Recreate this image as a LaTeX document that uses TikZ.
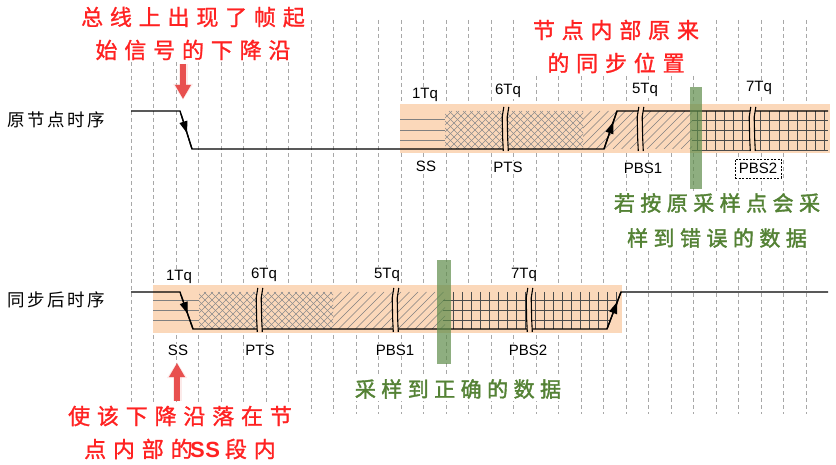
\documentclass[tikz,border=0pt]{standalone}
\usepackage{fontspec}
\setmainfont{Liberation Sans}
\newfontfamily\blackcjk{Noto Sans CJK SC}[LetterSpace=14]
\newfontfamily\redcjk{Noto Sans CJK SC}[LetterSpace=31,FakeBold=1.2]
\newfontfamily\greencjk{Noto Sans CJK SC}[LetterSpace=26,FakeBold=1.8]
\usetikzlibrary{arrows.meta,decorations.markings}
\definecolor{band}{HTML}{FBD8BA}
\definecolor{gbar}{HTML}{5E8C4A}
\definecolor{redtxt}{HTML}{FF2222}
\definecolor{greentxt}{HTML}{548235}
\definecolor{redarrow}{HTML}{E8504F}
\definecolor{gridgray}{HTML}{A8A8A8}
\newcommand\brkmark[3]{%
  \fill[band] (#1+0.8,#2) -- (#1-0.8,#2+10) -- (#1-0.3,#3-12) -- (#1+0.3,#3)
     -- (#1+5.3,#3) -- (#1+4.7,#3-12) -- (#1+4.2,#2+10) -- (#1+5.8,#2) -- cycle;
  \draw[brkline] (#1+0.8,#2) -- (#1-0.8,#2+10) -- (#1-0.3,#3-12) -- (#1+0.3,#3);
  \draw[brkline] (#1+5.8,#2) -- (#1+4.2,#2+10) -- (#1+4.7,#3-12) -- (#1+5.3,#3);
}
\begin{document}
\begin{tikzpicture}[x=1pt,y=-1pt,
  vgrid/.style={gridgray,line width=0.8pt,dash pattern=on 4pt off 3pt},
  sig/.style={black,line width=1.3pt,line join=miter},
  sslines/.style={black!50,line width=0.8pt},
  xh/.style={black!45,line width=0.45pt},
  dh/.style={black!50,line width=0.5pt},
  gridln/.style={black!70,line width=0.8pt},
  brkline/.style={black,line width=1.1pt},
  sigarrow/.style={postaction={decorate},decoration={markings,
     mark=at position #1 with {\arrow{Triangle[length=12pt,width=8pt]}}}},
  lab/.style={font=\fontsize{15}{17}\selectfont, fill=white, inner sep=1pt},
  blacklab/.style={font=\blackcjk\fontsize{17.5}{19}\selectfont, inner sep=1pt},
  redtext/.style={font=\redcjk\fontsize{22}{33}\selectfont, text=redtxt, fill=white, inner sep=2pt, align=center},
  greentext/.style={font=\greencjk\fontsize{21}{35}\selectfont, text=greentxt, fill=white, inner sep=2pt, align=center},
  gbarstyle/.style={fill=gbar, fill opacity=0.7},
  redarr/.style={redarrow, line width=6pt, -{Triangle[length=14pt,width=15pt]}}
]
\useasboundingbox (0,0) rectangle (836,465);
% dashed vertical grid
\foreach \k in {0,...,30} \draw[vgrid] ({131+22.5*\k},20) -- ({131+22.5*\k},414);
% bands
\fill[band] (400,104) rectangle (830,153);
\fill[band] (153,285) rectangle (622,333);
% ---------- top row patterns
\foreach \y in {119,130,140} \draw[sslines] (400,\y) -- (445,\y);
\begin{scope}
  \clip (445,111) rectangle (583,149);
  \foreach \i in {0,...,26} {
    \draw[xh] ({407+7*\i},149) -- ++(38,-38);
    \draw[xh] ({407+7*\i},111) -- ++(38,38);}
\end{scope}
\begin{scope}
  \clip (583,111) rectangle (692,149);
  \foreach \i in {0,...,18} \draw[dh] ({545+8.5*\i},149) -- ++(38,-38);
\end{scope}
\foreach \y in {120,130,140,150} \draw[gridln] (692,\y) -- (828,\y);
\foreach \j in {0,...,14} \draw[gridln] ({697+9.1*\j},111) -- ({697+9.1*\j},150);
% ---------- bottom row patterns
\foreach \y in {300,310,320} \draw[sslines] (153,\y) -- (199,\y);
\begin{scope}
  \clip (199,292) rectangle (333,329);
  \foreach \i in {0,...,25} {
    \draw[xh] ({162+7*\i},329) -- ++(37,-37);
    \draw[xh] ({162+7*\i},292) -- ++(37,37);}
\end{scope}
\begin{scope}
  \clip (333,292) rectangle (445,329);
  \foreach \i in {0,...,18} \draw[dh] ({296+8.5*\i},329) -- ++(37,-37);
\end{scope}
\begin{scope}
  \clip (443,292) -- (621,292) -- (607,329) -- (443,329) -- cycle;
  \foreach \y in {300,310,320} \draw[gridln] (443,\y) -- (621,\y);
  \foreach \j in {0,...,18} \draw[gridln] ({453+9.1*\j},292) -- ({453+9.1*\j},329);
\end{scope}
% ---------- signals
\coordinate (a1) at (131,111); \coordinate (a2) at (180,111); \coordinate (a3) at (181,114);
\coordinate (a4) at (192,149); \coordinate (a5) at (604,149); \coordinate (a6) at (617,111);
\coordinate (a7) at (828,111);
\draw[sig] (a1) -- (a2) -- (a3) -- (a4) -- (a5) -- (a6) -- (a7);
\draw[sig, sigarrow=0.55] (a3) -- (a4);
\draw[sig, sigarrow=0.72] (a5) -- (a6);
\coordinate (b1) at (131,292); \coordinate (b2) at (180,292); \coordinate (b3) at (181,295);
\coordinate (b4) at (193,329); \coordinate (b5) at (607,329); \coordinate (b6) at (621,292);
\coordinate (b7) at (828,292);
\draw[sig] (b1) -- (b2) -- (b3) -- (b4) -- (b5) -- (b6) -- (b7);
\draw[sig, sigarrow=0.56] (b3) -- (b4);
\draw[sig, sigarrow=0.74] (b5) -- (b6);
% ---------- breaks
\brkmark{503}{107}{151}
\brkmark{638}{107}{151}
\brkmark{750}{107}{151}
\brkmark{257}{288}{332}
\brkmark{393}{288}{332}
\brkmark{527}{288}{332}
% ---------- green bars
\fill[gbarstyle] (690,87) rectangle (702,189);
\fill[gbarstyle] (437,260) rectangle (451,364);
% ---------- labels
\node[blacklab] (lab1) at (56,120) {原节点时序};
\node[blacklab] (lab2) at (56,300) {同步后时序};
\node[lab] (t1tq) at (425,95) {1Tq};
\node[lab] (t6tq) at (508,91) {6Tq};
\node[lab] (t5tq) at (645,90) {5Tq};
\node[lab] (t7tq) at (759,88) {7Tq};
\node[lab] (tss) at (426,166) {SS};
\node[lab] (tpts) at (508,167) {PTS};
\node[lab] (tpbs1) at (643,168) {PBS1};
\node[lab, draw, dash pattern=on 2pt off 1.5pt, line width=0.6pt, minimum width=46pt, minimum height=19pt] (tpbs2) at (758,168.5) {PBS2};
\node[lab] (b1tq) at (179,277) {1Tq};
\node[lab] (b6tq) at (264,275) {6Tq};
\node[lab] (b5tq) at (387,275) {5Tq};
\node[lab] (b7tq) at (524,275) {7Tq};
\node[lab] (bss) at (178,350) {SS};
\node[lab] (bpts) at (260,350) {PTS};
\node[lab] (bpbs1) at (395,350) {PBS1};
\node[lab] (bpbs2) at (528,350) {PBS2};
% ---------- annotations
\node[redtext] (r1) at (193,33.5) {总线上出现了帧起\\始信号的下降沿};
\node[redtext] (r2) at (616,46.5) {节点内部原来\\的同步位置};
\node[redtext] (r3) at (180,432.5) {使该下降沿落在节\\点内部的\hspace{-2.5pt}{\rmfamily\bfseries S\hspace{0.5pt}S}\hspace{5pt}段内};
\node[greentext] (g1) at (717,220.5) {若按原采样点会采\\样到错误的数据};
\node[greentext] (g2) at (458,389) {采样到正确的数据};
% ---------- red arrows
\coordinate (ra1) at (183,64); \coordinate (ra2) at (183,99);
\coordinate (rb1) at (177,401); \coordinate (rb2) at (177,363);
\draw[redarr, redarrow!35, line width=9pt, opacity=0.35, -{Triangle[length=16pt,width=19pt]}] (ra1) -- ([yshift=-1pt]ra2);
\draw[redarr] (ra1) -- (ra2);
\draw[redarr, redarrow!35, line width=9pt, opacity=0.35, -{Triangle[length=16pt,width=19pt]}] (rb1) -- ([yshift=1pt]rb2);
\draw[redarr] (rb1) -- (rb2);
\end{tikzpicture}
\end{document}
